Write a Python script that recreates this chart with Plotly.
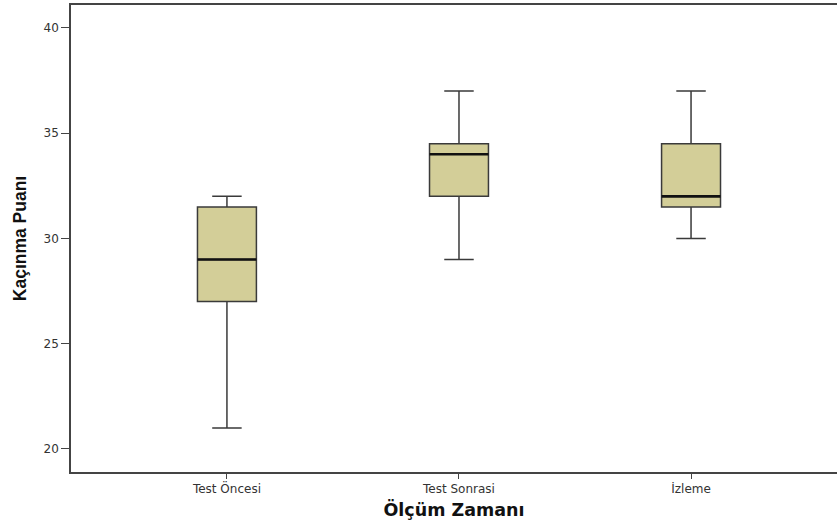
import plotly.graph_objects as go

# Box-plot summary statistics per measurement time
categories = ["Test Öncesi", "Test Sonrasi", "İzleme"]
lower_whisker = [21, 29, 30]
q1_values = [27, 32, 31.5]
median_values = [29, 34, 32]
q3_values = [31.5, 34.5, 34.5]
upper_whisker = [32, 37, 37]
y_ticks = [20, 25, 30, 35, 40]

positions = list(range(len(categories)))
box_width = 0.254
fill_color = "#D3CE98"
edge_color = "#3a3a3a"

fig = go.Figure()
fig.add_trace(go.Box(
    x=positions,
    lowerfence=lower_whisker,
    q1=q1_values,
    median=median_values,
    q3=q3_values,
    upperfence=upper_whisker,
    width=box_width,
    whiskerwidth=0.5,
    fillcolor=fill_color,
    line=dict(color=edge_color, width=1.5),
    boxpoints=False,
    hoverinfo="skip",
    showlegend=False,
))

# Heavier median bars drawn across each box
mx, my = [], []
for p, m in zip(positions, median_values):
    mx += [p - box_width / 2, p + box_width / 2, None]
    my += [m, m, None]
fig.add_trace(go.Scatter(
    x=mx, y=my, mode="lines",
    line=dict(color="#111111", width=2.6),
    hoverinfo="skip", showlegend=False,
))

tick_font = dict(family="DejaVu Sans, sans-serif", size=12, color="#333333")

fig.update_layout(
    width=837, height=526,
    margin=dict(l=71, r=0, t=5, b=54),
    paper_bgcolor="white",
    plot_bgcolor="white",
    xaxis=dict(
        range=[-0.672, 2.629],
        tickmode="array", tickvals=positions, ticktext=categories,
        showgrid=False, zeroline=False,
        showline=True, linecolor="#444444", linewidth=1.5, mirror=True,
        ticks="outside", ticklen=5, tickcolor="#444444", tickwidth=1.2,
        tickfont=tick_font,
        title=dict(text="<b>Ölçüm Zamanı</b>",
                   font=dict(family="DejaVu Sans, sans-serif", size=17.5, color="#111111"),
                   standoff=9),
    ),
    yaxis=dict(
        range=[18.907, 41.09],
        tickmode="array", tickvals=y_ticks,
        showgrid=False, zeroline=False,
        showline=True, linecolor="#444444", linewidth=1.5, mirror=False,
        ticks="outside", ticklen=8, tickcolor="#444444", tickwidth=1.2,
        tickfont=tick_font,
        title=dict(text="<b>Kaçınma Puanı</b>",
                   font=dict(family="Liberation Sans Narrow, Arial Narrow, sans-serif",
                             size=17.5, color="#111111"),
                   standoff=12),
    ),
)

fig.write_html("out.html")
